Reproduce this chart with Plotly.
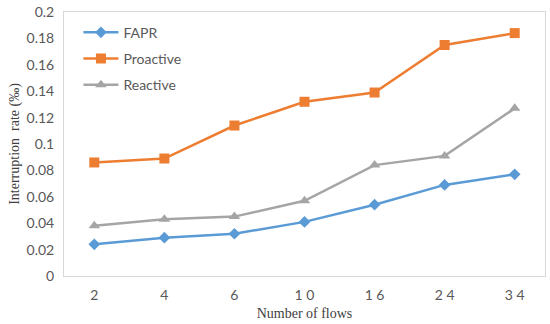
import plotly.graph_objects as go

categories = ["2", "4", "6", "10", "16", "24", "34"]
tick_labels = ["2", "4", "6", "1 0", "1 6", "2 4", "3 4"]
fapr = [0.024, 0.029, 0.032, 0.041, 0.054, 0.069, 0.077]
proactive = [0.086, 0.089, 0.114, 0.132, 0.139, 0.175, 0.184]
reactive = [0.038, 0.043, 0.045, 0.057, 0.084, 0.091, 0.127]
y_ticks = [0, 0.02, 0.04, 0.06, 0.08, 0.1, 0.12, 0.14, 0.16, 0.18, 0.2]
y_tick_labels = ["0", "0.02", "0.04", "0.06", "0.08", "0.1", "0.12", "0.14", "0.16", "0.18", "0.2"]

fig = go.Figure()
series = [
    ("FAPR", fapr, "#5B9BD5", "diamond", 9),
    ("Proactive", proactive, "#ED7D31", "square", 10),
    ("Reactive", reactive, "#A5A5A5", "triangle-up", 10),
]
for name, vals, color, sym, size in series:
    fig.add_trace(go.Scatter(
        x=categories, y=vals, name=name, mode="lines+markers",
        line=dict(color=color, width=2.5),
        marker=dict(symbol=sym, size=size, color=color),
        legendgroup=name,
    ))

title_font = dict(family="Liberation Serif, Times New Roman, serif", size=14, color="#404040")
fig.update_layout(
    width=550, height=324,
    margin=dict(l=64, r=5, t=12, b=48),
    paper_bgcolor="white", plot_bgcolor="white",
    font=dict(family="Lato, Carlito, sans-serif", size=14, color="#595959"),
    showlegend=True,
    legend=dict(x=0.03, y=0.982, xanchor="left", yanchor="top",
                bgcolor="rgba(0,0,0,0)", tracegroupgap=5, itemwidth=35,
                font=dict(size=14, color="#595959")),
    xaxis=dict(
        type="category", tickvals=categories, ticktext=tick_labels,
        showgrid=False, showline=True, linecolor="#D9D9D9", mirror=True,
        ticks="", zeroline=False, automargin=False, ticklabelstandoff=6,
        title=dict(text="Number of flows", standoff=6, font=title_font),
    ),
    yaxis=dict(
        range=[0, 0.2], tickvals=y_ticks, ticktext=y_tick_labels,
        showgrid=False, showline=True, linecolor="#D9D9D9", mirror=True,
        ticks="", zeroline=False, automargin=False, ticklabelstandoff=6,
        title=dict(text="Interruption  rate (‰)", standoff=3, font=title_font),
    ),
)

fig.write_html("out.html", config={"displayModeBar": False},
               post_script="document.body.style.margin='0';document.body.style.overflow='hidden';")
